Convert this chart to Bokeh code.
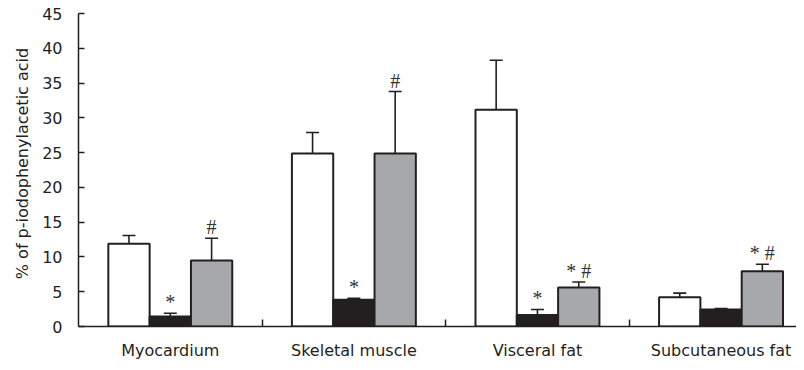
from bokeh.plotting import figure
from bokeh.models import ColumnDataSource, FixedTicker, Whisker, TeeHead, Range1d
from bokeh.transform import dodge
from bokeh.core.properties import value
from bokeh.embed import file_html
from bokeh.resources import INLINE

categories = ["Myocardium", "Skeletal muscle", "Visceral fat", "Subcutaneous fat"]
control = [11.9, 24.9, 31.2, 4.2]
control_sd = [1.2, 3.0, 7.1, 0.6]
group_b = [1.45, 3.85, 1.65, 2.45]
group_b_sd = [0.45, 0.2, 0.8, 0.15]
group_c = [9.5, 24.9, 5.6, 7.95]
group_c_sd = [3.2, 8.9, 0.8, 1.0]
marks_b = ["*", "*", "*", ""]
marks_c = ["#", "#", "* #", "* #"]
y_ticks = [0, 5, 10, 15, 20, 25, 30, 35, 40, 45]

xs = [i + 0.5 for i in range(len(categories))]

def src(vals, sds, marks=None):
    d = dict(x=xs, top=vals, err=[v + s for v, s in zip(vals, sds)])
    if marks is not None:
        d["m"] = marks
    return ColumnDataSource(d)

p = figure(width=796, height=362, output_backend="svg", toolbar_location=None,
           x_range=Range1d(0, 3.911), y_range=Range1d(0, 46.9),
           min_border_left=78, min_border_right=0, min_border_top=0, min_border_bottom=34)
p.outline_line_color = None
p.grid.visible = False
p.background_fill_color = "white"

BW = 0.225
ink = "#231f20"
series = [
    (src(control, control_sd), -BW, "white", None),
    (src(group_b, group_b_sd, marks_b), 0.0, "#231f20", True),
    (src(group_c, group_c_sd, marks_c), BW, "#a7a8ab", True),
]

for s, off, fill, has_marks in series:
    p.vbar(x=dodge("x", off), top="top", bottom=0, width=BW, source=s,
           fill_color=fill, line_color=ink, line_width=2)
    w = Whisker(source=s, base=dodge("x", off), lower="top", upper="err",
                line_color=ink, line_width=1.6,
                upper_head=TeeHead(size=13, line_color=ink, line_width=1.6),
                lower_head=None)
    p.add_layout(w)
    if has_marks:
        p.text(x=dodge("x", off), y="err", text="m", source=s,
               text_align="center", text_baseline="bottom", y_offset=0,
               text_font=value("Liberation Serif"), text_font_size="20px",
               text_color="#333333")

# y axis
ya = p.yaxis[0]
ya.ticker = FixedTicker(ticks=y_ticks)
ya.bounds = (0, 45)
ya.axis_line_color = ink
ya.axis_line_width = 1.5
ya.major_tick_in = 6
ya.major_tick_out = 0
ya.major_tick_line_color = ink
ya.major_tick_line_width = 1.5
ya.minor_tick_line_color = None
ya.major_label_standoff = 16
ya.major_label_text_font = "DejaVu Sans"
ya.major_label_text_font_size = "16px"
ya.major_label_text_color = ink
ya.axis_label = "% of p-iodophenylacetic acid"
ya.axis_label_text_font = "DejaVu Sans"
ya.axis_label_text_font_size = "16px"
ya.axis_label_text_font_style = "normal"
ya.axis_label_text_color = ink
ya.axis_label_standoff = 7

# x axis
xa = p.xaxis[0]
xa.ticker = FixedTicker(ticks=xs, minor_ticks=[1, 2, 3])
xa.major_label_overrides = {x: c for x, c in zip(xs, categories)}
xa.axis_line_color = ink
xa.axis_line_width = 1.5
xa.major_tick_in = 0
xa.major_tick_out = 0
xa.minor_tick_in = 7
xa.minor_tick_out = 0
xa.minor_tick_line_color = ink
xa.minor_tick_line_width = 1.5
xa.major_label_standoff = 14
xa.major_label_text_font = "DejaVu Sans"
xa.major_label_text_font_size = "16px"
xa.major_label_text_color = ink

open("out.html", "w").write(file_html(p, INLINE))
